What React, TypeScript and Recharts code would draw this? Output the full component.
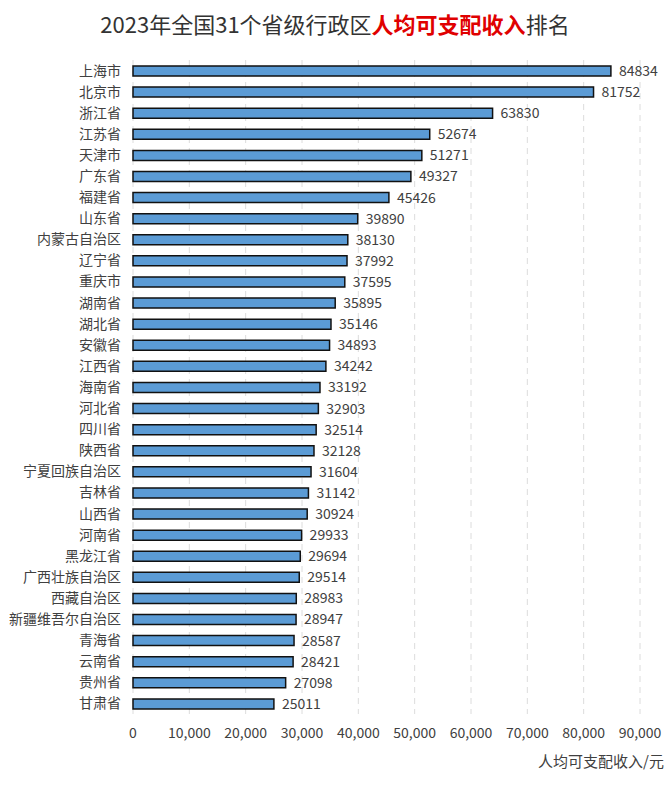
import React from 'react';
import { BarChart, Bar, XAxis, YAxis, CartesianGrid, LabelList } from 'recharts';

const provinces = ['上海市','北京市','浙江省','江苏省','天津市','广东省','福建省','山东省','内蒙古自治区','辽宁省','重庆市','湖南省','湖北省','安徽省','江西省','海南省','河北省','四川省','陕西省','宁夏回族自治区','吉林省','山西省','河南省','黑龙江省','广西壮族自治区','西藏自治区','新疆维吾尔自治区','青海省','云南省','贵州省','甘肃省'];
const incomes = [84834,81752,63830,52674,51271,49327,45426,39890,38130,37992,37595,35895,35146,34893,34242,33192,32903,32514,32128,31604,31142,30924,29933,29694,29514,28983,28947,28587,28421,27098,25011];
const xTicks = [0,10000,20000,30000,40000,50000,60000,70000,80000,90000];

const data = provinces.map((name, i) => ({ name, value: incomes[i] }));
const FONT = '"Microsoft YaHei","Noto Sans CJK SC","Noto Sans",sans-serif';

export default function App() {
  return (
    <div style={{ position: 'absolute', left: 0, top: 0, width: 670, height: 786, background: '#fff', fontFamily: FONT }}>
      <div style={{ position: 'absolute', top: 8, left: 0, width: 670, textAlign: 'center', fontSize: 22, color: '#333', lineHeight: '30px' }}>
        2023年全国31个省级行政区<span style={{ color: '#e00000', fontWeight: 'bold' }}>人均可支配收入</span>排名
      </div>
      <BarChart width={670} height={786} data={data} layout="vertical" margin={{ top: 60, right: 30, bottom: 42, left: 0 }} barSize={10}>
        <CartesianGrid horizontal={false} vertical={true} stroke="#dcdcdc" strokeDasharray="6 5" />
        <XAxis type="number" domain={[0, 90000]} ticks={xTicks} height={30} tickFormatter={(v: number) => v.toLocaleString('en-US')} axisLine={false} tickLine={false} tick={{ fontSize: 14, fill: '#404040', fontFamily: FONT }} tickMargin={8} interval={0} />
        <YAxis type="category" dataKey="name" width={133} axisLine={false} tickLine={false} tick={{ fontSize: 14, fill: '#404040', fontFamily: FONT }} tickMargin={6} interval={0} />
        <Bar dataKey="value" fill="#5b9bd5" stroke="#111" strokeWidth={1.5} isAnimationActive={false}>
          <LabelList dataKey="value" position="right" offset={8} style={{ fontSize: 14, fill: '#404040', fontFamily: FONT }} />
        </Bar>
      </BarChart>
      <div style={{ position: 'absolute', top: 750, right: 6, fontSize: 15, color: '#404040' }}>人均可支配收入/元</div>
    </div>
  );
}
